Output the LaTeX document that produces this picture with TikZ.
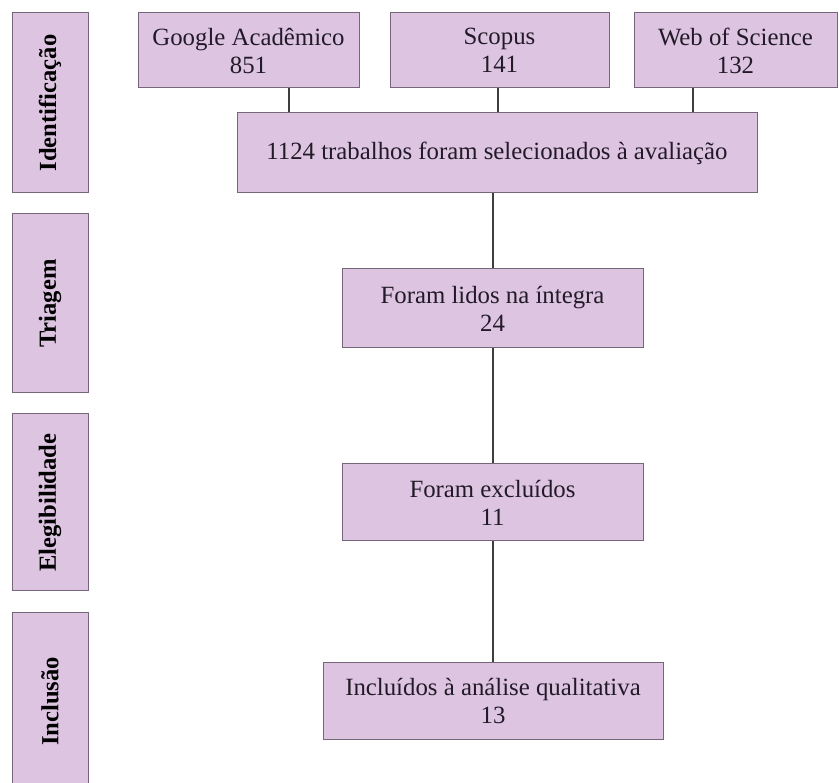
\documentclass[tikz,border=0pt]{standalone}
\usepackage{fontspec}
\setmainfont{Liberation Serif}
\definecolor{boxfill}{HTML}{DDC5E1}
\definecolor{boxline}{HTML}{75667A}
\definecolor{linkline}{HTML}{3E3E3E}
\definecolor{txt}{HTML}{221A28}
\begin{document}
\begin{tikzpicture}[x=1pt,y=-1pt,
  flowbox/.style={draw=boxline,line width=1pt,fill=boxfill,inner sep=0pt,
    align=center,text=txt,font=\fontsize{24.8}{28}\selectfont,anchor=center},
  phasebox/.style={draw=boxline,line width=1pt,fill=boxfill,inner sep=0pt,
    minimum width=76pt},
  phaselabel/.style={rotate=90,font=\bfseries\fontsize{24.6}{28}\selectfont,text=black},
  link/.style={draw=linkline,line width=1.3pt}]
\useasboundingbox (0,0) rectangle (839,783);
\clip (0,0) rectangle (839,783);
% phase column
\node[phasebox,minimum height=180pt] (pid) at (50,103) {};
\node[phaselabel] at (pid.center) {Identificação};
\node[phasebox,minimum height=179pt] (ptri) at (50,303.5) {};
\node[phaselabel] at (ptri.center) {Triagem};
\node[phasebox,minimum height=177pt] (pele) at (50,502.5) {};
\node[phaselabel] at (pele.center) {Elegibilidade};
\node[phasebox,minimum height=177pt] (pinc) at (50,701.5) {};
\node[phaselabel] at (pinc.center) {Inclusão};
% flow boxes
\node[flowbox,minimum width=221pt,minimum height=75pt] (google) at (248.5,50.5) {Google Acadêmico\\851};
\node[flowbox,minimum width=219pt,minimum height=75pt] (scopus) at (499.5,50.5) {Scopus\\141};
\node[flowbox,minimum width=203pt,minimum height=75pt] (wos) at (735.5,50.5) {Web of Science\\132};
\node[flowbox,minimum width=520pt,minimum height=80pt] (sel) at (497,153) {1124 trabalhos foram selecionados à avaliação};
\node[flowbox,minimum width=301pt,minimum height=79pt] (lidos) at (492.5,308.5) {Foram lidos na íntegra\\24};
\node[flowbox,minimum width=301pt,minimum height=77pt] (exc) at (492.5,502.5) {Foram excluídos\\11};
\node[flowbox,minimum width=340pt,minimum height=76pt] (incl) at (493,701) {Incluídos à análise qualitativa\\13};
% connector columns
\coordinate (xg) at (289,0);
\coordinate (xs) at (498,0);
\coordinate (xw) at (693,0);
\coordinate (xm) at (493,0);
\draw[link] (google.south -| xg) -- (sel.north -| xg);
\draw[link] (scopus.south -| xs) -- (sel.north -| xs);
\draw[link] (wos.south -| xw) -- (sel.north -| xw);
\draw[link] (sel.south -| xm) -- (lidos.north -| xm);
\draw[link] (lidos.south -| xm) -- (exc.north -| xm);
\draw[link] (exc.south -| xm) -- (incl.north -| xm);
\end{tikzpicture}
\end{document}
